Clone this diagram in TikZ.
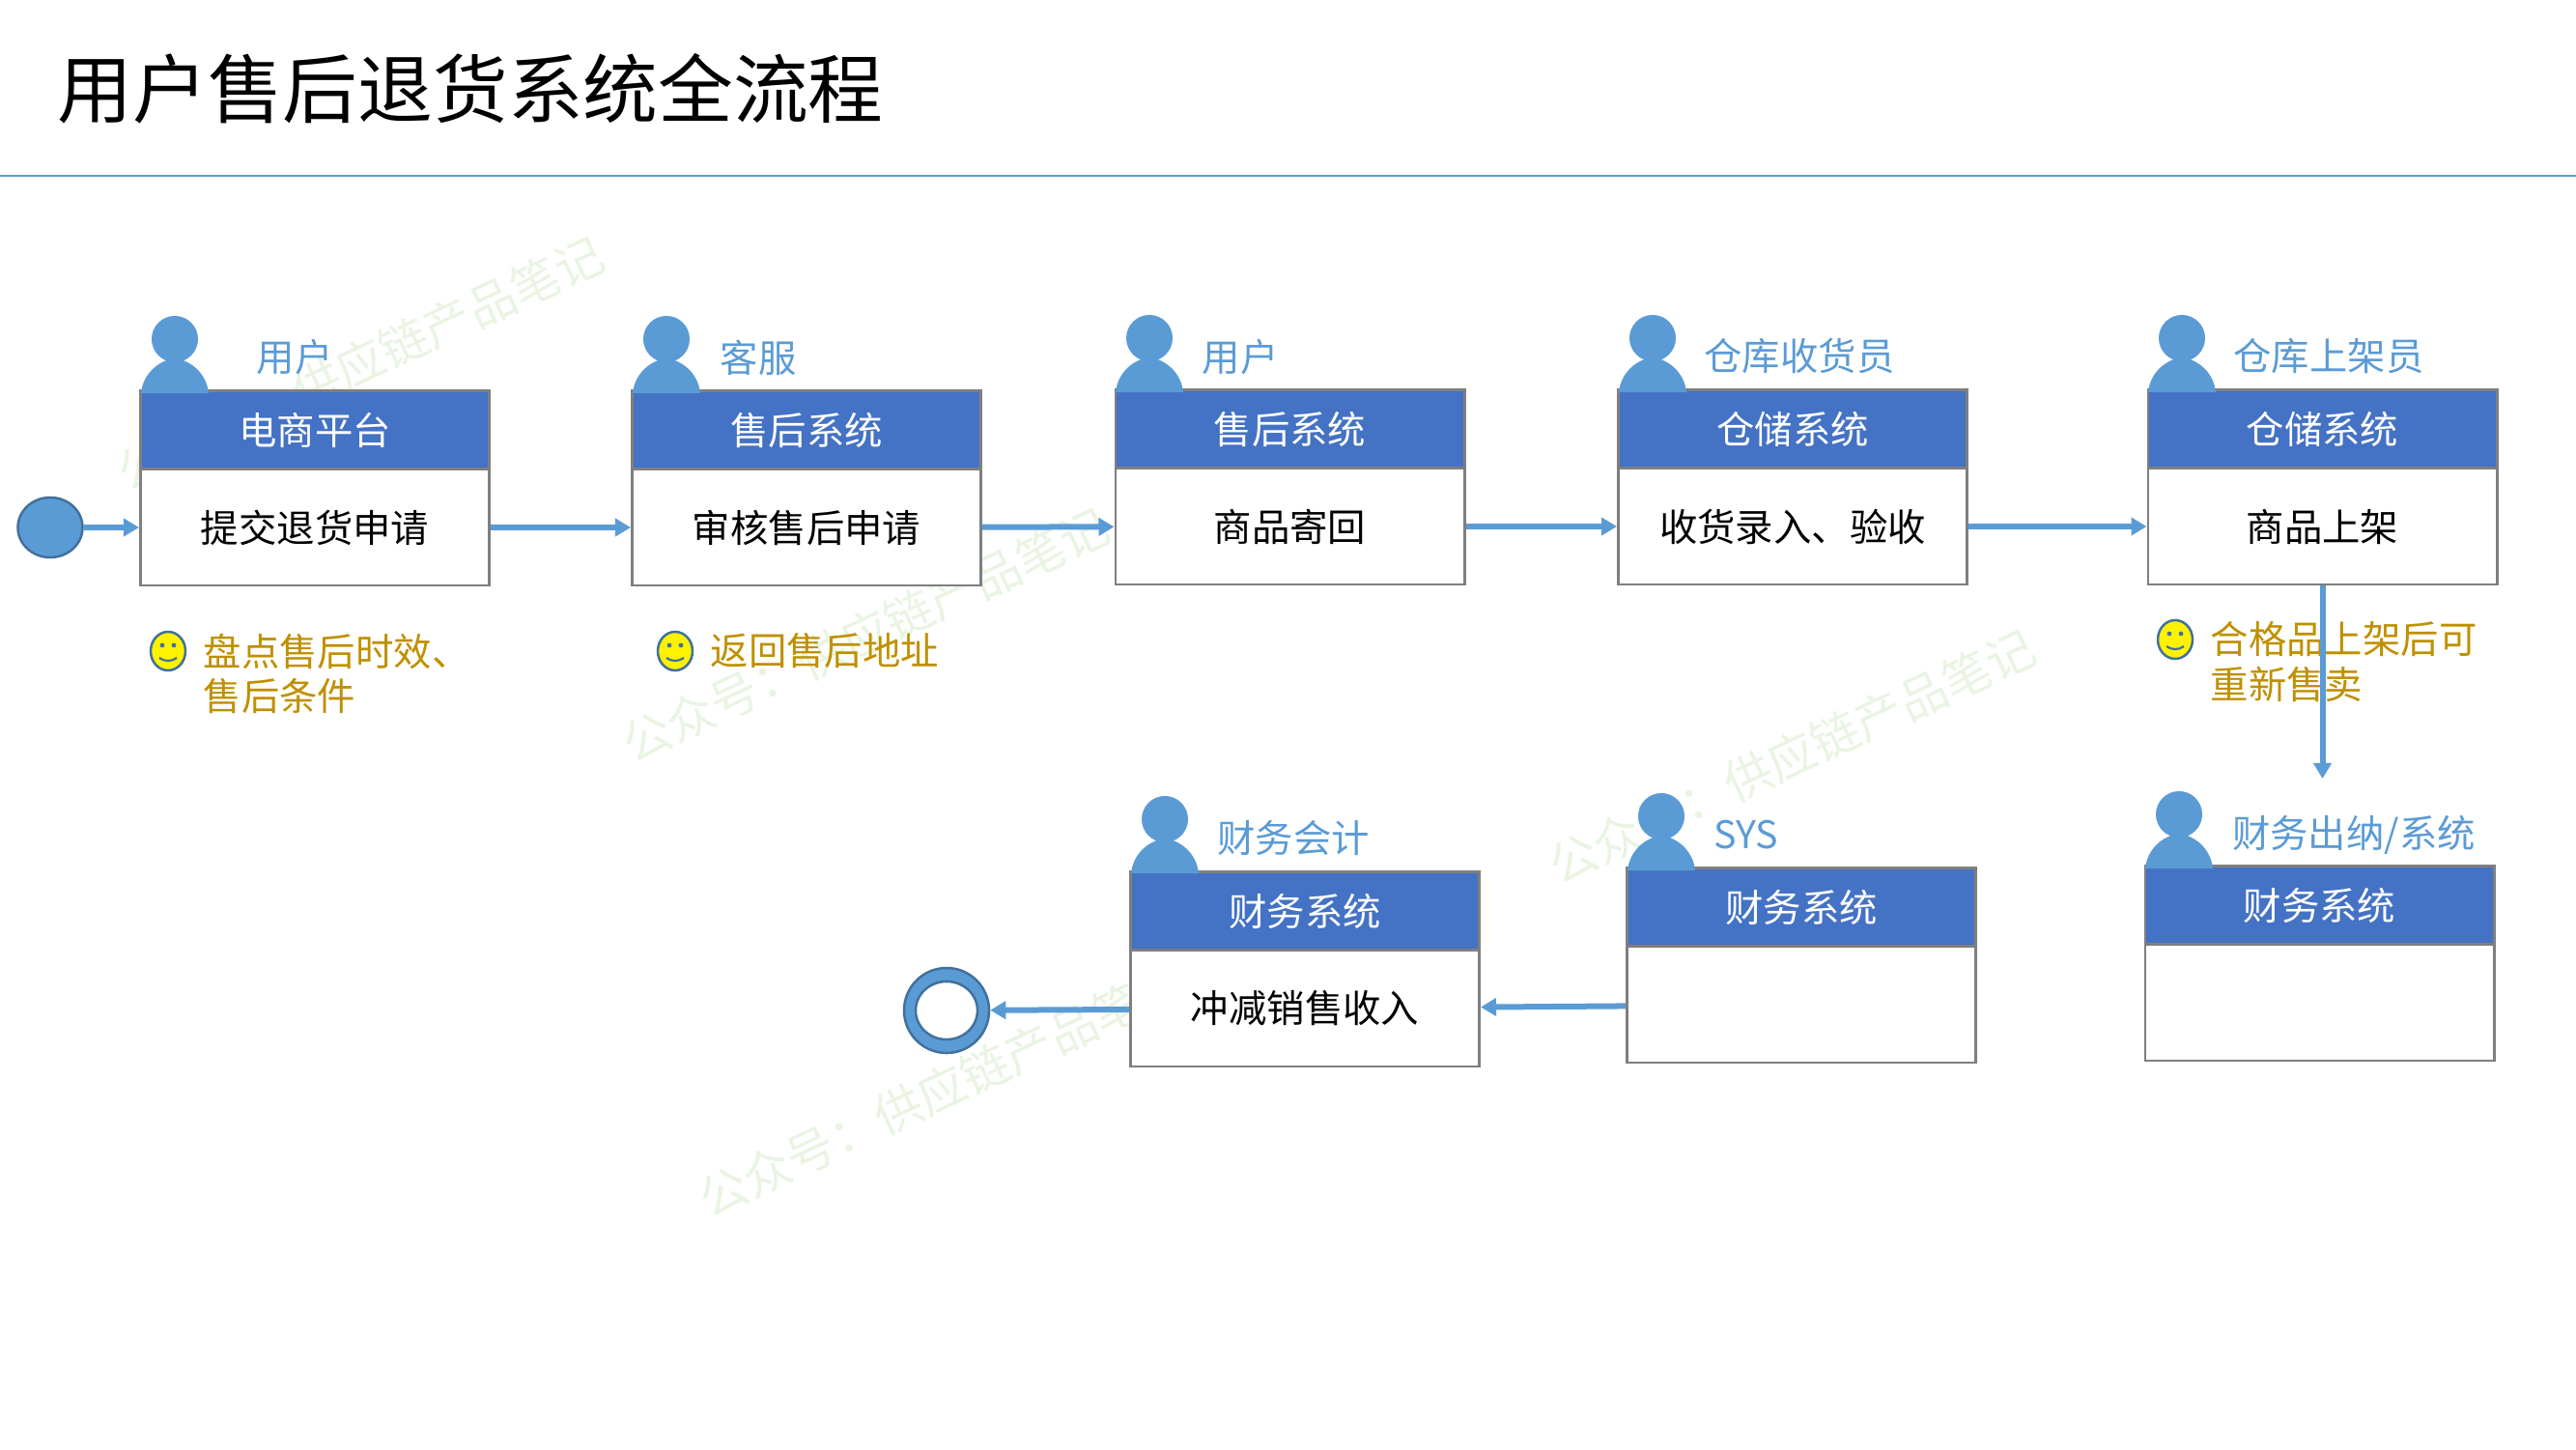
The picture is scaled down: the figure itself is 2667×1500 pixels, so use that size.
\documentclass[tikz,border=0pt]{standalone}
\usepackage{fontspec}
\setmainfont{Noto Sans CJK SC}
\usetikzlibrary{arrows.meta,shapes.geometric}
\definecolor{lineblue}{HTML}{5B9BD5}
\definecolor{barblue}{HTML}{4472C4}
\definecolor{ringblue}{HTML}{41719C}
\definecolor{boxgrey}{HTML}{7F7F7F}
\definecolor{notegold}{HTML}{BF9000}
\definecolor{markgreen}{HTML}{E9F4E3}
\tikzset{
  sysbar/.style={rectangle, draw=boxgrey, line width=0.028cm, fill=barblue, text=white,
    minimum width=3.61cm, minimum height=0.81cm, inner sep=0pt, font=\fontsize{11.2}{13}\selectfont},
  taskbox/.style={rectangle, draw=boxgrey, line width=0.028cm, fill=white, text=black,
    minimum width=3.61cm, minimum height=1.2cm, inner sep=0pt, font=\fontsize{11.2}{13}\selectfont},
  rolelabel/.style={text=lineblue, inner sep=0pt, font=\fontsize{11.2}{13}\selectfont},
  notelabel/.style={anchor=west, align=left, text=notegold, inner sep=0pt, font=\fontsize{11.2}{13.1}\selectfont},
  markword/.style={text=markgreen, rotate=25, inner sep=0pt, font=\fontsize{14.2}{16}\selectfont},
  flowline/.style={draw=lineblue, line width=0.06cm, -{Triangle[length=0.16cm,width=0.18cm]}},
  pics/personicon/.style={code={
    \fill[lineblue] (35,-56) ellipse [x radius=0.24cm, y radius=0.24cm];
    \fill[lineblue] (0,0) .. controls (2,-20) and (18,-34) .. (35,-36)
      .. controls (52,-34) and (68,-20) .. (70,0) -- cycle;
  }},
  pics/smileface/.style={code={
    \draw[ringblue, fill=yellow, line width=0.025cm] (0,0) ellipse [x radius=0.18cm, y radius=0.2cm];
    \fill[ringblue] (-6,-6) circle [radius=0.024cm] (6,-6) circle [radius=0.024cm];
    \draw[ringblue, line width=0.022cm] (-9,7) .. controls (-4,11) and (4,11) .. (9,7);
  }}
}
\begin{document}
\begin{tikzpicture}[x=0.01cm, y=-0.01cm]
  \useasboundingbox (0,0) rectangle (2667,1500);

%watermark
  \node[markword] (m1) at (373,376) {公众号：供应链产品笔记};
  \node[markword] (m2) at (896,657) {公众号：供应链产品笔记};
  \node[markword] (m3) at (1855,783) {公众号：供应链产品笔记};
  \node[markword] (m4) at (975,1128) {公众号：供应链产品笔记};

%title
  \node[anchor=west, inner sep=0pt, font=\fontsize{22.1}{26}\selectfont] (title) at (59,92) {用户售后退货系统全流程};
  \draw[lineblue, line width=0.02cm] (0,182) -- (2667,182);

%first row
  \node[sysbar] (h1) at (326,445) {电商平台};
  \node[taskbox] (b1) at (326,546) {提交退货申请};
  \node[sysbar] (h2) at (835,445) {售后系统};
  \node[taskbox] (b2) at (835,546) {审核售后申请};
  \node[sysbar] (h3) at (1335.5,444) {售后系统};
  \node[taskbox] (b3) at (1335.5,545) {商品寄回};
  \node[sysbar] (h4) at (1856,444) {仓储系统};
  \node[taskbox] (b4) at (1856,545) {收货录入、验收};
  \node[sysbar] (h5) at (2404.5,444) {仓储系统};
  \node[taskbox] (b5) at (2404.5,545) {商品上架};

%second row
  \node[sysbar] (h6) at (2401.5,937) {财务系统};
  \node[taskbox] (b6) at (2401.5,1038) {};
  \node[sysbar] (h7) at (1865,939) {财务系统};
  \node[taskbox] (b7) at (1865,1040) {};
  \node[sysbar] (h8) at (1351,943) {财务系统};
  \node[taskbox] (b8) at (1351,1044) {冲减销售收入};

%persons
  \pic at (146,407) {personicon};
  \pic at (655,407) {personicon};
  \pic at (1155,406) {personicon};
  \pic at (1676,406) {personicon};
  \pic at (2224,406) {personicon};
  \pic at (2221,899) {personicon};
  \pic at (1685,901) {personicon};
  \pic at (1171,904) {personicon};

  \node[rolelabel] (r1) at (305,370) {用户};
  \node[rolelabel] (r2) at (785,370) {客服};
  \node[rolelabel] (r3) at (1284,370) {用户};
  \node[rolelabel] (r4) at (1863,369) {仓库收货员};
  \node[rolelabel] (r5) at (2411,369) {仓库上架员};
  \node[rolelabel] (r6) at (2437,864) {财务出纳/系统};
  \node[rolelabel] (r7) at (1808,864) {SYS};
  \node[rolelabel] (r8) at (1339,868) {财务会计};

%notes
  \pic at (174,674) {smileface};
  \pic at (699,674) {smileface};
  \pic at (2252,662) {smileface};
  \node[notelabel] (n1) at (210,697) {盘点售后时效、\\售后条件};
  \node[notelabel] (n2) at (735,674) {返回售后地址};
  \node[notelabel] (n3) at (2288,685) {合格品上架后可\\重新售卖};

%start and end
  \node[ellipse, draw=ringblue, line width=0.025cm, fill=lineblue, minimum width=0.67cm, minimum height=0.62cm, inner sep=0pt] (start) at (52,546) {};
  \node[ellipse, draw=ringblue, line width=0.025cm, fill=lineblue, minimum width=0.88cm, minimum height=0.88cm, inner sep=0pt] (stop) at (980,1046) {};
  \node[ellipse, draw=ringblue, line width=0.025cm, fill=white, minimum width=0.64cm, minimum height=0.6cm, inner sep=0pt] (stophole) at (980,1046) {};
  \coordinate (tip) at (2404.5,806);

%arrows
  \draw[flowline] (start) -- (b1);
  \draw[flowline] (b1) -- (b2);
  \draw[flowline] (b2) -- (b3);
  \draw[flowline] (b3) -- (b4);
  \draw[flowline] (b4) -- (b5);
  \draw[flowline] (b5) -- (tip);
  \draw[flowline] (b7) -- (b8);
  \draw[flowline] (b8) -- (stop);
\end{tikzpicture}
\end{document}
